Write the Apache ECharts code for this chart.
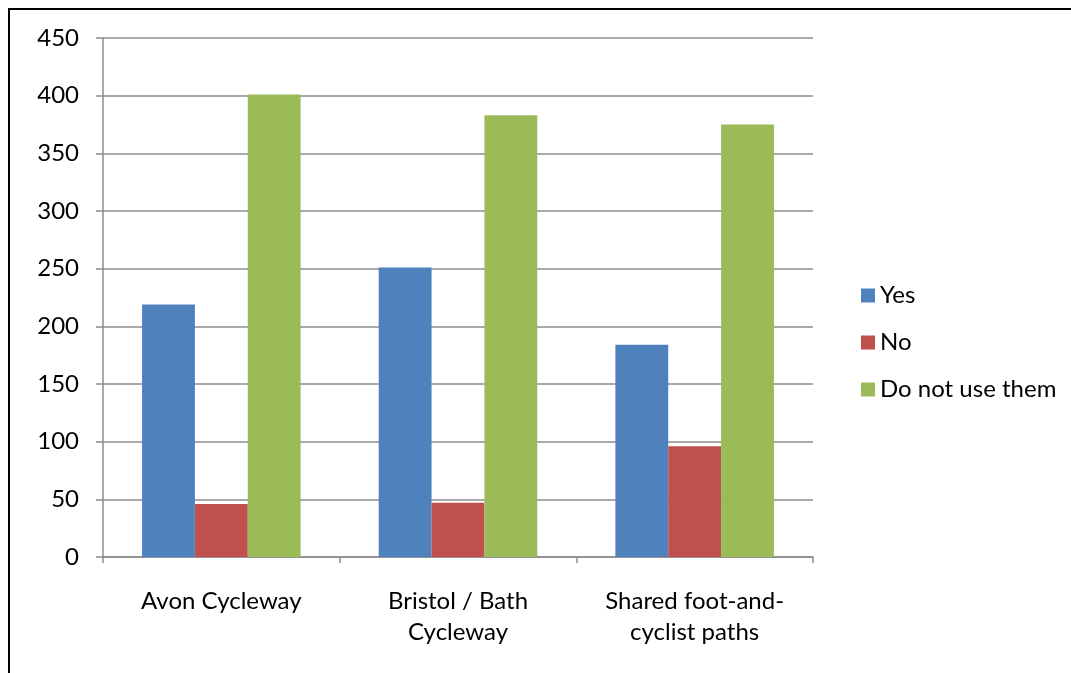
<!DOCTYPE html>
<html>
<head>
<meta charset="utf-8">
<script src="https://cdn.jsdelivr.net/npm/echarts@6/dist/echarts.min.js"></script>
<style>
  html, body { margin: 0; padding: 0; background: #fff; }
  #chart { width: 1071px; height: 673px; }
</style>
</head>
<body>
<div id="chart"></div>
<script>
// Survey responses per route type
const categories = ['Avon Cycleway', 'Bristol / Bath\nCycleway', 'Shared foot-and-\ncyclist paths'];
const seriesNames = ['Yes', 'No', 'Do not use them'];
const yesValues = [219, 251, 184];
const noValues = [46, 47, 96];
const notUsedValues = [401, 383, 375];
const colors = ['#4F81BD', '#C0504D', '#9BBB59'];

const FONT = 'Lato';
const chart = echarts.init(document.getElementById('chart'));

chart.setOption({
  animation: false,
  textStyle: { fontFamily: FONT },
  color: colors,
  graphic: [{
    type: 'rect',
    shape: { x: 9, y: 9, width: 1100, height: 700 },
    style: { fill: 'none', stroke: '#000', lineWidth: 2 },
    silent: true
  }],
  grid: { left: 103, right: 258, top: 38, bottom: 116 },
  legend: {
    orient: 'vertical',
    left: 856,
    top: 278,
    icon: 'rect',
    itemWidth: 14,
    itemHeight: 14,
    itemGap: 22,
    textStyle: { fontFamily: FONT, fontSize: 24, color: '#000', lineHeight: 25, padding: [0, 0, 0, 0] },
    data: seriesNames
  },
  xAxis: {
    type: 'category',
    data: categories,
    axisLine: { lineStyle: { color: '#8c8c8c', width: 1.5 } },
    axisTick: { show: true, length: 6, inside: false, lineStyle: { color: '#8c8c8c', width: 1.5 } },
    axisLabel: { color: '#000', fontFamily: FONT, fontSize: 24, lineHeight: 31, margin: 29, interval: 0 }
  },
  yAxis: {
    type: 'value',
    min: 0,
    max: 450,
    interval: 50,
    axisLine: { show: true, lineStyle: { color: '#8c8c8c', width: 1.5 } },
    axisTick: { show: true, length: 7, lineStyle: { color: '#8c8c8c', width: 1.5 } },
    axisLabel: { color: '#000', fontFamily: FONT, fontSize: 24, margin: 24 },
    splitLine: { lineStyle: { color: '#8c8c8c', width: 1.5 } }
  },
  series: [
    { name: seriesNames[0], type: 'bar', data: yesValues, barGap: '0%', barCategoryGap: '33%' },
    { name: seriesNames[1], type: 'bar', data: noValues, barGap: '0%', barCategoryGap: '33%' },
    { name: seriesNames[2], type: 'bar', data: notUsedValues, barGap: '0%', barCategoryGap: '33%' }
  ]
});
</script>
</body>
</html>
